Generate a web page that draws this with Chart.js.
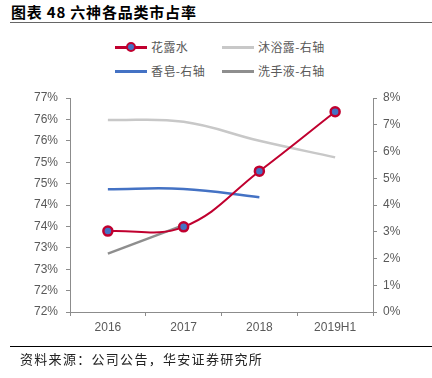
<!DOCTYPE html>
<html>
<head>
<meta charset="utf-8">
<script src="https://cdn.jsdelivr.net/npm/chart.js@4/dist/chart.umd.min.js"></script>
<style>
body { margin: 0; width: 432px; height: 378px; background: #fff; position: relative; overflow: hidden; font-family: "Noto Sans CJK SC", sans-serif; }
#title { position: absolute; left: 11px; top: 1px; font-size: 15px; font-weight: bold; color: #000; letter-spacing: 0.8px; }
#titleLine { position: absolute; left: 10px; right: 0; top: 22px; height: 0; border-top: 1.5px solid #666; }
.lg { position: absolute; font-size: 12px; color: #595959; height: 16px; line-height: 16px; }
.lg .ln { position: absolute; left: 0; top: 7px; width: 32px; height: 3px; }
.lg .dot { position: absolute; left: 11px; top: 3px; width: 6px; height: 6px; border-radius: 50%; background: #4472C4; border: 2.5px solid #C0002F; }
.lg span { position: absolute; left: 36px; top: 0; white-space: nowrap; letter-spacing: 0.4px; }
#foot { position: absolute; left: 10px; right: 0; top: 346px; border-top: 1px solid #000; }
#src { position: absolute; left: 20px; top: 349px; font-size: 13px; color: #222; letter-spacing: 1.3px; }
#wrap { position: absolute; left: 0; top: 0; width: 432px; height: 378px; }
</style>
</head>
<body>
<div id="title">图表 48 六神各品类市占率</div>
<div id="titleLine"></div>
<div class="lg" style="left:115px;top:39px"><div class="ln" style="background:#C0002F"></div><div class="dot"></div><span>花露水</span></div>
<div class="lg" style="left:222px;top:39px"><div class="ln" style="background:#C8C8C8"></div><span>沐浴露-右轴</span></div>
<div class="lg" style="left:115px;top:63px"><div class="ln" style="background:#4472C4"></div><span>香皂-右轴</span></div>
<div class="lg" style="left:222px;top:63px"><div class="ln" style="background:#8E8E8E"></div><span>洗手液-右轴</span></div>
<div id="wrap"><canvas id="c"></canvas></div>
<div id="foot"></div>
<div id="src">资料来源：公司公告，华安证券研究所</div>
<script>
const categories = ['2016', '2017', '2018', '2019H1'];
const huaLuShui = [73.89, 73.99, 75.29, 76.68];
const muYuLu = [7.18, 7.11, 6.40, 5.78];
const xiangZao = [4.59, 4.60, 4.29, null];
const xiShouYe = [2.18, 3.25, null, null];

const tickFont = { family: 'Liberation Sans, Arial, sans-serif', size: 12 };
const axisGray = '#8C8C8C';

new Chart(document.getElementById('c'), {
    type: 'line',
    data: {
        labels: categories,
        datasets: [
            {
                label: '花露水',
                data: huaLuShui,
                yAxisID: 'y',
                borderColor: '#C0002F',
                borderWidth: 2,
                backgroundColor: '#4472C4',
                pointBackgroundColor: '#4472C4',
                pointBorderColor: '#C0002F',
                pointBorderWidth: 2.5,
                pointRadius: 4.5,
                tension: 0.4,
            },
            {
                label: '沐浴露-右轴',
                data: muYuLu,
                yAxisID: 'y1',
                borderColor: '#C8C8C8',
                borderWidth: 2.5,
                pointRadius: 0,
                tension: 0.4,
            },
            {
                label: '香皂-右轴',
                data: xiangZao,
                yAxisID: 'y1',
                borderColor: '#4472C4',
                borderWidth: 2.5,
                pointRadius: 0,
                tension: 0.4,
            },
            {
                label: '洗手液-右轴',
                data: xiShouYe,
                yAxisID: 'y1',
                borderColor: '#8E8E8E',
                borderWidth: 2.5,
                pointRadius: 0,
                tension: 0.4,
            },
        ],
    },
    options: {
        responsive: true,
        maintainAspectRatio: false,
        animation: false,
        layout: { padding: { top: 98, bottom: 36, left: 0, right: 0 } },
        plugins: {
            legend: { display: false },
            tooltip: { enabled: false },
        },
        scales: {
            x: {
                offset: true,
                grid: { offset: true, drawOnChartArea: false, drawTicks: true, tickLength: 4, color: axisGray },
                border: { color: axisGray, width: 1 },
                ticks: { color: '#595959', font: tickFont, padding: 4 },
                afterFit: function (scale) { scale.height = 30; },
            },
            y: {
                position: 'left',
                min: 72,
                max: 77,
                grid: { drawOnChartArea: false, drawTicks: true, tickLength: 4, color: axisGray },
                border: { color: axisGray, width: 1 },
                ticks: {
                    stepSize: 0.5,
                    color: '#595959',
                    font: tickFont,
                    padding: 8,
                    callback: function (value) {
                        return Math.floor(value + 1e-9) + '%';
                    },
                },
                afterFit: function (scale) { scale.width = 70; },
            },
            y1: {
                position: 'right',
                min: 0,
                max: 8,
                grid: { drawOnChartArea: false, drawTicks: true, tickLength: 4, color: axisGray },
                border: { color: axisGray, width: 1 },
                ticks: {
                    stepSize: 1,
                    color: '#595959',
                    font: tickFont,
                    padding: 6,
                    callback: function (value) {
                        return value + '%';
                    },
                },
                afterFit: function (scale) { scale.width = 59; },
            },
        },
    },
});
</script>
</body>
</html>
